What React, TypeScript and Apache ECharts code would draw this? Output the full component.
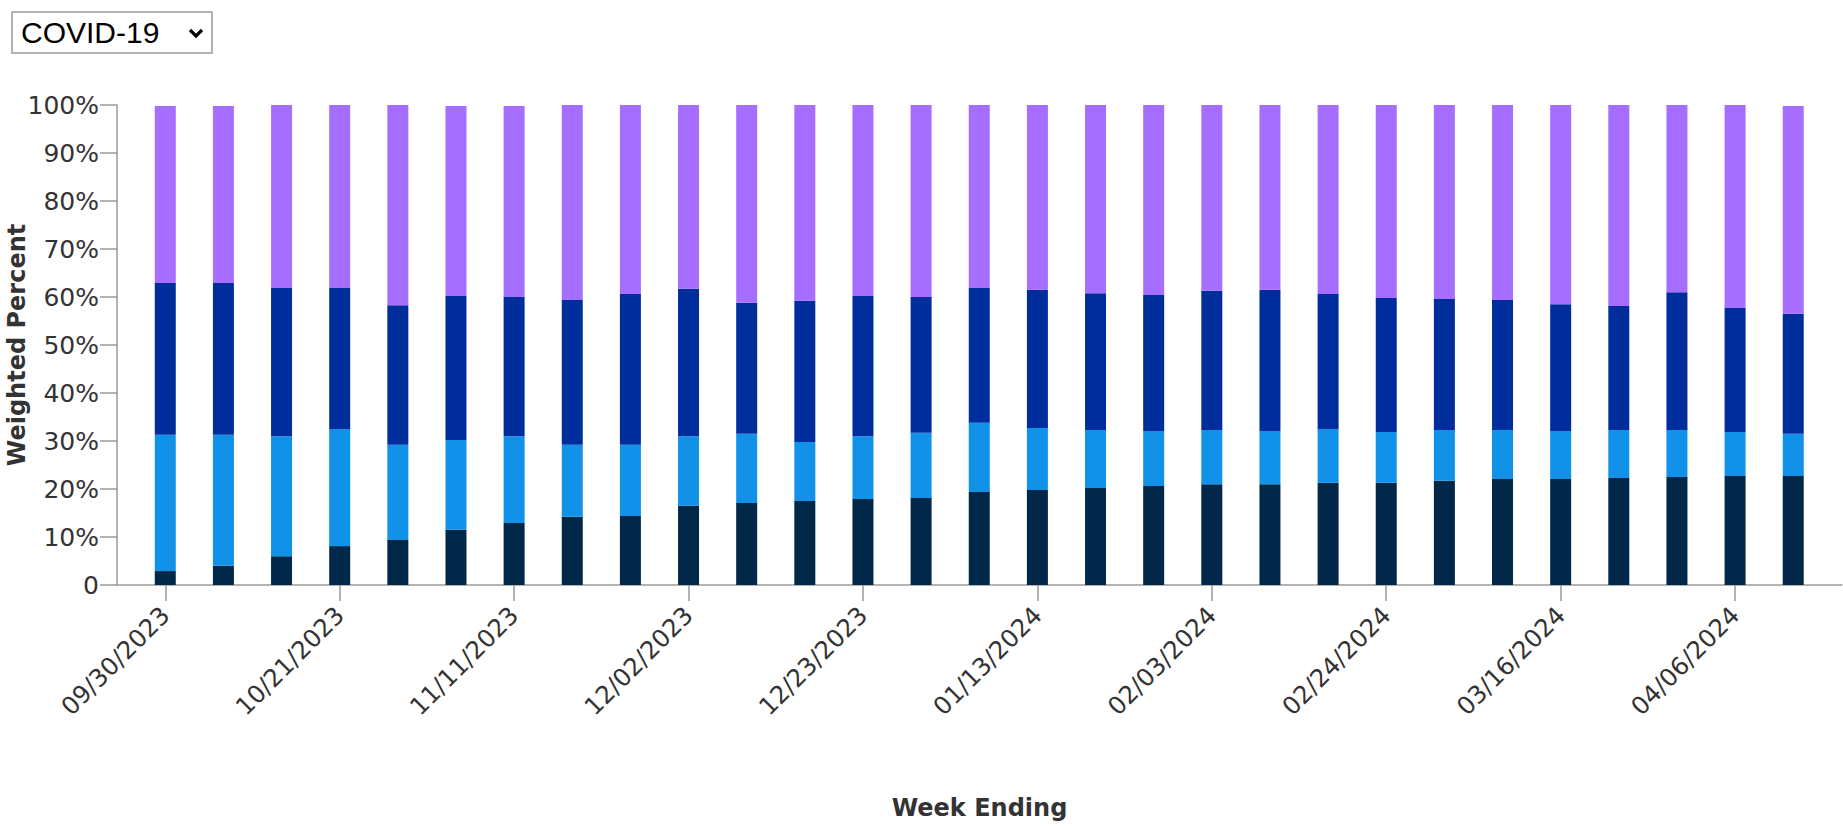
import React, { useEffect, useRef } from "react";
import * as echarts from "echarts";

// Week-ending dates (categories)
const weeks = [
  "09/30/2023", "10/07/2023", "10/14/2023", "10/21/2023", "10/28/2023",
  "11/04/2023", "11/11/2023", "11/18/2023", "11/25/2023", "12/02/2023",
  "12/09/2023", "12/16/2023", "12/23/2023", "12/30/2023", "01/06/2024",
  "01/13/2024", "01/20/2024", "01/27/2024", "02/03/2024", "02/10/2024",
  "02/17/2024", "02/24/2024", "03/02/2024", "03/09/2024", "03/16/2024",
  "03/23/2024", "03/30/2024", "04/06/2024", "04/13/2024",
];

// Weighted percent per segment (bottom to top)
const received = [
  2.9, 4.0, 6.0, 8.1, 9.4, 11.5, 12.9, 14.2, 14.4, 16.5,
  17.1, 17.5, 17.9, 18.1, 19.4, 19.8, 20.2, 20.6, 21.0, 21.0,
  21.3, 21.3, 21.7, 22.1, 22.1, 22.3, 22.5, 22.7, 22.7,
];
const definitelyWill = [
  28.4, 27.3, 25.0, 24.4, 19.8, 18.7, 18.1, 15.0, 14.8, 14.5,
  14.4, 12.3, 13.1, 13.6, 14.4, 12.9, 12.1, 11.5, 11.3, 11.1,
  11.2, 10.6, 10.6, 10.2, 10.0, 10.0, 9.8, 9.2, 8.8,
];
const probablyUnsure = [
  31.6, 31.6, 30.9, 29.4, 29.1, 30.0, 29.0, 30.2, 31.4, 30.7,
  27.3, 29.4, 29.2, 28.3, 28.1, 28.8, 28.5, 28.3, 29.0, 29.4,
  28.1, 27.9, 27.3, 27.1, 26.4, 25.8, 28.7, 25.8, 25.0,
];
const willNot = [
  36.9, 36.9, 38.1, 38.1, 41.7, 39.6, 39.8, 40.6, 39.4, 38.3,
  41.2, 40.8, 39.8, 40.0, 38.1, 38.5, 39.2, 39.6, 38.7, 38.5,
  39.4, 40.2, 40.4, 40.6, 41.5, 41.9, 39.0, 42.3, 43.3,
];

const seriesNames = [
  "Received a vaccination",
  "Definitely will get vaccinated",
  "Probably will get vaccinated or are unsure",
  "Probably or definitely will not get vaccinated",
];
const seriesColors = ["#012749", "#1192e8", "#002d9c", "#a56eff"];
const diseaseOptions = ["COVID-19", "Influenza", "RSV"];

const AXIS_COLOR = "#9a9a9a";
const TEXT_COLOR = "#333333";
const FONT = "'DejaVu Sans', sans-serif";

export default function App() {
  const ref = useRef<HTMLDivElement>(null);

  useEffect(() => {
    if (!ref.current) return;
    const chart = echarts.init(ref.current, null, { renderer: "svg" });
    const dataSets = [received, definitelyWill, probablyUnsure, willNot];
    const option: any = {
      animation: false,
      backgroundColor: "#ffffff",
      grid: [
        { left: 117, right: 1, top: 105, bottom: 243, containLabel: false, outerBoundsMode: "none" },
        { left: 136.2, right: 20.7, top: 105, bottom: 243, containLabel: false, outerBoundsMode: "none" },
      ],
      xAxis: [
        {
          gridIndex: 0,
          type: "value",
          min: 0,
          max: 1,
          axisLine: { show: true, onZero: false, lineStyle: { color: AXIS_COLOR, width: 1.5 } },
          axisTick: { show: false },
          axisLabel: { show: false },
          splitLine: { show: false },
          name: "Week Ending",
          nameLocation: "middle",
          nameGap: 211,
          nameMoveOverlap: false,
          nameTextStyle: {
            fontFamily: FONT,
            fontWeight: "bold",
            fontSize: 24,
            color: TEXT_COLOR,
          },
        },
        {
          gridIndex: 1,
          type: "category",
          data: weeks,
          axisLine: { show: false },
          axisTick: {
            show: true,
            interval: 2,
            alignWithLabel: true,
            length: 16,
            lineStyle: { color: AXIS_COLOR, width: 1.5 },
          },
          axisLabel: {
            interval: 2,
            rotate: 45,
            margin: 26,
            fontFamily: FONT,
            fontSize: 24.5,
            color: TEXT_COLOR,
          },
          splitLine: { show: false },
        },
      ],
      yAxis: [
        {
          gridIndex: 0,
          type: "value",
          min: 0,
          max: 100,
          interval: 10,
          axisLine: { show: true, onZero: false, lineStyle: { color: AXIS_COLOR, width: 1.5 } },
          axisTick: { show: true, length: 17, lineStyle: { color: AXIS_COLOR, width: 1.5 } },
          axisLabel: {
            margin: 18,
            fontFamily: FONT,
            fontSize: 25,
            color: TEXT_COLOR,
            formatter: (v: number) => (v === 0 ? "0" : v + "%"),
          },
          splitLine: { show: false },
          name: "Weighted Percent",
          nameLocation: "middle",
          nameGap: 88,
          nameMoveOverlap: false,
          nameTextStyle: {
            fontFamily: FONT,
            fontWeight: "bold",
            fontSize: 24,
            color: TEXT_COLOR,
          },
        },
        { gridIndex: 1, type: "value", min: 0, max: 100, show: false },
      ],
      series: dataSets.map((d, i) => ({
        name: seriesNames[i],
        type: "bar",
        stack: "total",
        xAxisIndex: 1,
        yAxisIndex: 1,
        barWidth: 21,
        itemStyle: { color: seriesColors[i] },
        data: d,
      })),
    };
    chart.setOption(option);
    return () => chart.dispose();
  }, []);

  return (
    <div
      style={{
        position: "fixed",
        left: 0,
        top: 0,
        width: 1843,
        height: 828,
        background: "#fff",
      }}
    >
      <div ref={ref} style={{ position: "absolute", left: 0, top: 0, width: 1843, height: 828 }} />
      <div style={{ position: "absolute", left: 11, top: 11, width: 202, height: 43 }}>
        <select
          defaultValue="COVID-19"
          style={{
            appearance: "none",
            WebkitAppearance: "none",
            width: "100%",
            height: "100%",
            boxSizing: "border-box",
            border: "2px solid #b3b3b3",
            borderRadius: 0,
            background: "#fff",
            fontFamily: "'Liberation Sans', Arial, sans-serif",
            fontSize: 30,
            color: "#000",
            padding: "0 0 0 8px",
            margin: 0,
          }}
        >
          {diseaseOptions.map((o) => (
            <option key={o} value={o}>
              {o}
            </option>
          ))}
        </select>
        <svg
          style={{ position: "absolute", left: 177, top: 17, pointerEvents: "none" }}
          width="16"
          height="11"
          viewBox="0 0 16 11"
        >
          <polyline points="2,2 8,8 14,2" fill="none" stroke="#000" strokeWidth="3.2" />
        </svg>
      </div>
    </div>
  );
}
